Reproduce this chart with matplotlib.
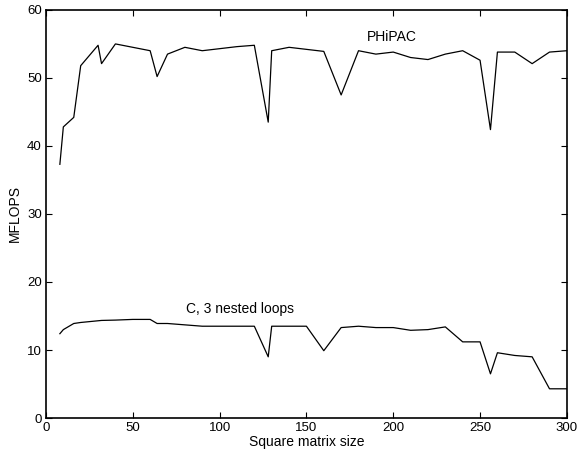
import matplotlib
matplotlib.use('Agg')
from matplotlib import pyplot as plt

plt.rcParams['font.family'] = ['Liberation Sans', 'DejaVu Sans']

# matrix sizes and measured rates
SIZES = [8, 10, 16, 20, 30, 32, 40, 50, 60, 64, 70, 80, 90, 100, 110, 120,
         128, 130, 140, 150, 160, 170, 180, 190, 200, 210, 220, 230, 240,
         250, 256, 260, 270, 280, 290, 300]
PHIPAC = [37.3, 42.8, 44.2, 51.8, 54.8, 52.1, 55.0, 54.5, 54.0, 50.2, 53.5,
          54.5, 54.0, 54.3, 54.6, 54.8, 43.5, 54.0, 54.5, 54.2, 53.9, 47.5,
          54.0, 53.5, 53.8, 53.0, 52.7, 53.5, 54.0, 52.6, 42.4, 53.8, 53.8,
          52.1, 53.8, 54.0]
C_LOOPS = [12.4, 13.0, 13.9, 14.05, 14.3, 14.35, 14.4, 14.5, 14.5, 13.9, 13.9,
           13.7, 13.5, 13.5, 13.5, 13.5, 9.0, 13.5, 13.5, 13.5, 9.9, 13.3,
           13.5, 13.3, 13.3, 12.9, 13.0, 13.4, 11.2, 11.2, 6.5, 9.6, 9.2,
           9.0, 4.3, 4.3]


def plot():
    fig = plt.figure(figsize=(5.82, 4.5), dpi=100)
    ax = fig.add_axes([0.079, 0.071, 0.895, 0.907])

    ax.plot(SIZES, PHIPAC, color='black', lw=0.9)
    ax.plot(SIZES, C_LOOPS, color='black', lw=0.9)

    ax.text(199, 56, 'PHiPAC', ha='center', va='center', fontsize=10)
    ax.text(112, 16, 'C, 3 nested loops', ha='center', va='center', fontsize=10)

    ax.set_xlim(0, 300)
    ax.set_ylim(0, 60)
    ax.set_xticks(range(0, 301, 50))
    ax.set_yticks(range(0, 61, 10))
    ax.tick_params(direction='in', top=True, right=True, labelsize=9.5,
                   length=4)
    ax.tick_params(axis='x', pad=3)
    ax.tick_params(axis='y', pad=3)
    for side in ax.spines.values():
        side.set_linewidth(1.2)

    ax.set_xlabel('Square matrix size', fontsize=10, labelpad=0.5)
    ax.set_ylabel('MFLOPS', fontsize=10, labelpad=4)

    fig.savefig('out.png')


if __name__ == '__main__':
    plot()
